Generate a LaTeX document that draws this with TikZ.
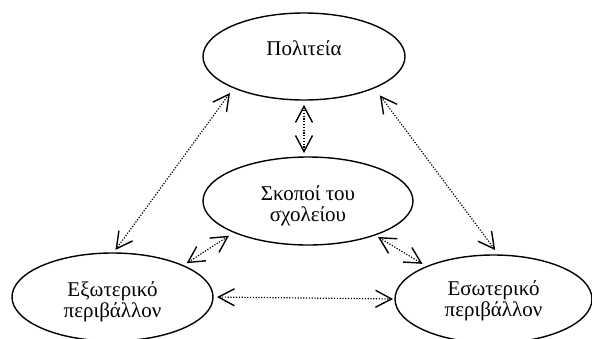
\documentclass[tikz,border=0pt]{standalone}
\usepackage{fontspec}
\setmainfont{Liberation Serif}
\usetikzlibrary{shapes.geometric,arrows.meta}
\newcommand{\elltext}[2]{\raisebox{#1}[0pt][0pt]{\begin{tabular}[t]{@{}c@{}}#2\end{tabular}}}
\begin{document}
\begin{tikzpicture}[x=1pt,y=-1pt,
  ell/.style={ellipse, draw, line width=1.4pt, inner sep=0pt, outer sep=0pt,
    font=\fontsize{21}{21.5}\selectfont},
  tip/.tip={Straight Barb[length=16pt,width=17pt,line width=1.4pt]},
  link/.style={line width=1.2pt, dash pattern=on 1.2pt off 1.6pt, tip-tip}]
\useasboundingbox (0,0) rectangle (592,338);
\node[ell, minimum width=202pt, minimum height=87pt] (pol) at (304,56.5) {\elltext{1.5pt}{Πολιτεία}};
\node[ell, minimum width=210pt, minimum height=88pt] (mid) at (308,201) {\elltext{1pt}{Σκοποί του\\σχολείου}};
\node[ell, minimum width=201pt, minimum height=88pt] (left) at (112.5,297) {\elltext{1pt}{Εξωτερικό\\περιβάλλον}};
\node[ell, minimum width=197pt, minimum height=88pt] (right) at (493.5,299) {\elltext{4pt}{Εσωτερικό\\περιβάλλον}};
\draw[link, shorten <=5pt, shorten >=4pt] (pol.south) -- (pol.south |- mid.north);
\draw[link, shorten <=6.5pt, shorten >=3.75pt] (pol.204) -- (left.89.6);
\draw[link, shorten <=9.5pt, shorten >=6.2pt] (pol.336.7) -- (right.83.3);
\draw[link, shorten <=6.25pt, shorten >=4.4pt] (mid.203.6) -- (left.24.5);
\draw[link, shorten <=3.85pt, shorten >=5.25pt] (mid.333) -- (right.154.3);
\draw[link, shorten <=4pt, shorten >=2pt] (left.east) -- (right.west);
\end{tikzpicture}
\end{document}
